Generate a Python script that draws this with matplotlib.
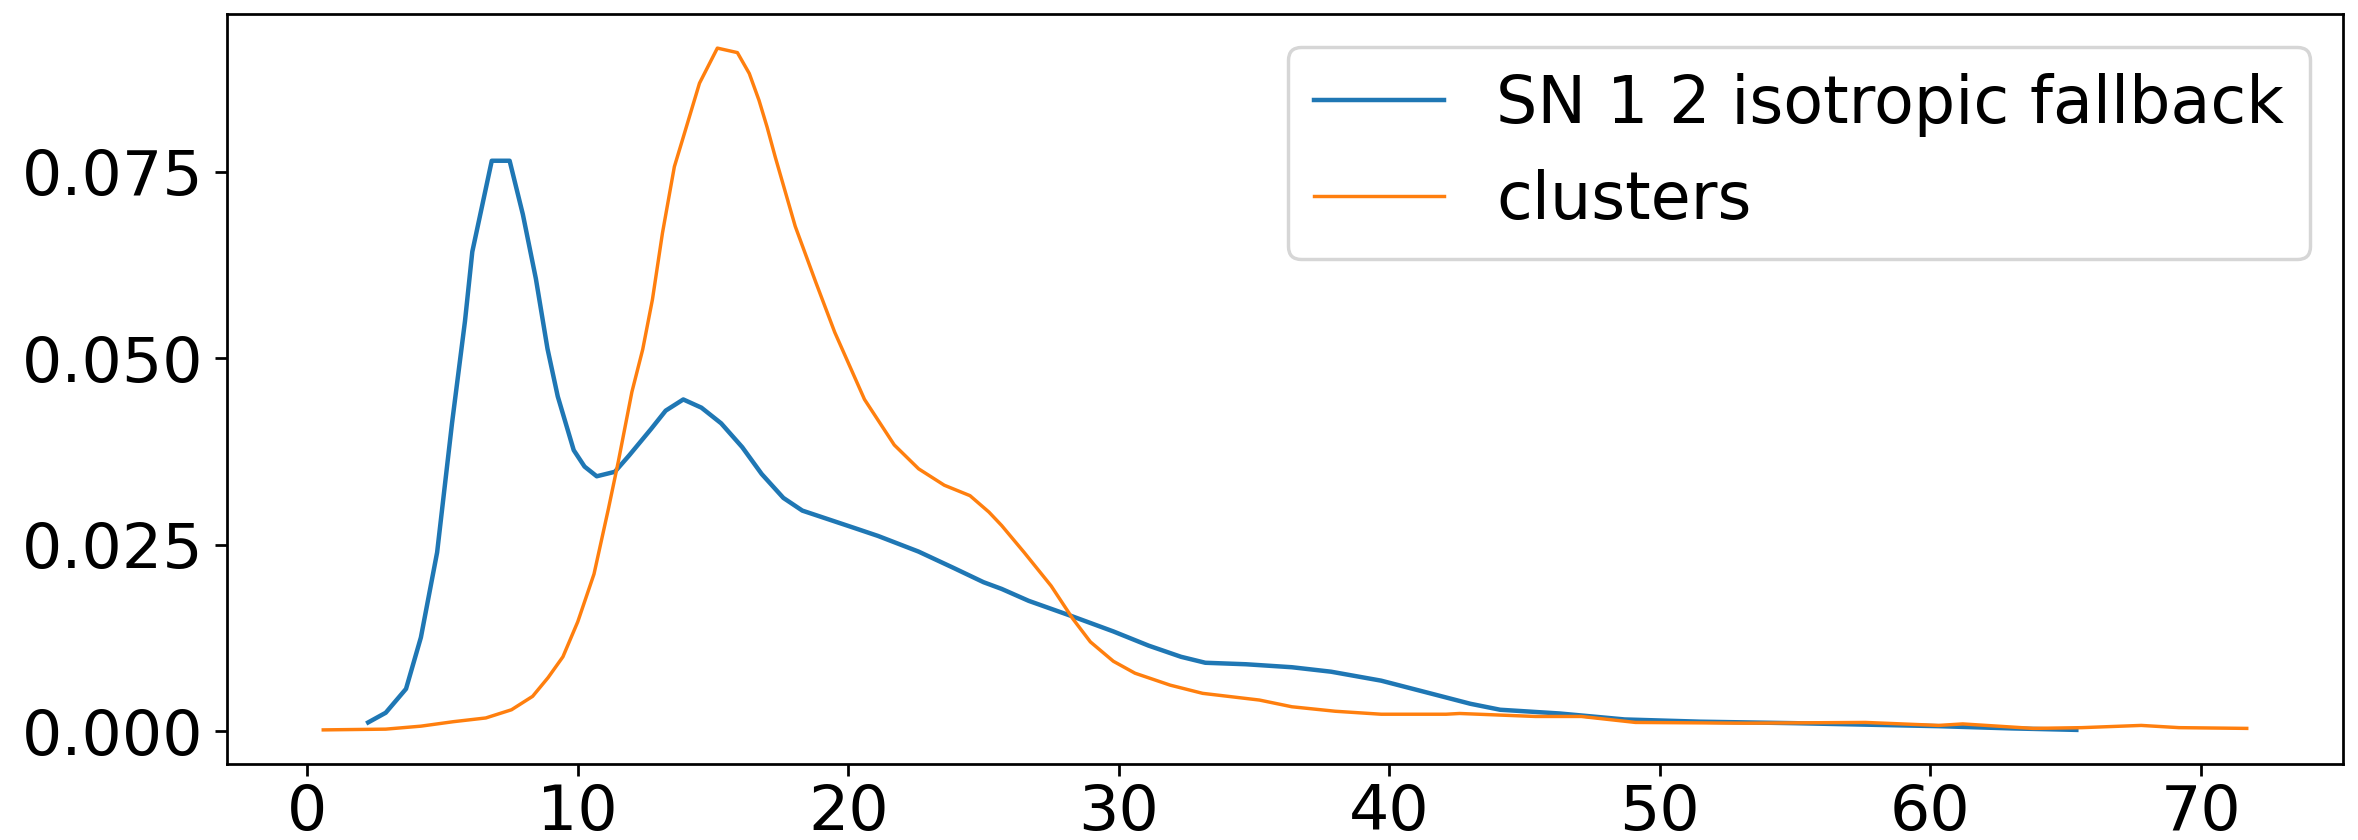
import matplotlib
matplotlib.use("Agg")
import matplotlib.pyplot as plt

# --- data ---
sn_label = "SN 1 2 isotropic fallback"
sn_x = [2.25, 2.9, 3.65, 4.2, 4.8, 5.35, 5.83, 6.1, 6.82, 7.48, 7.97, 8.45, 8.88,
        9.26, 9.85, 10.25, 10.7, 11.37, 11.9, 12.7, 13.25, 13.9, 14.57, 15.3, 16.08,
        16.8, 17.6, 18.3, 20.2, 21.1, 22.6, 23.9, 25.0, 25.67, 26.67, 28.3, 29.8,
        31.1, 32.3, 33.2, 34.7, 36.4, 37.85, 39.7, 41.3, 43.0, 44.1, 46.3, 48.7,
        51.5, 55.0, 60.3, 63.0, 65.4]
sn_y = [0.0012, 0.0025, 0.0057, 0.0126, 0.0240, 0.0413, 0.0550, 0.0643, 0.0765,
        0.0765, 0.0693, 0.0607, 0.0513, 0.0449, 0.0377, 0.0355, 0.0342, 0.0348,
        0.0370, 0.0405, 0.0430, 0.0445, 0.0434, 0.0413, 0.0381, 0.0345, 0.0313,
        0.0296, 0.0273, 0.0262, 0.0241, 0.0219, 0.0200, 0.0191, 0.0175, 0.0154,
        0.0134, 0.0115, 0.0100, 0.0092, 0.0090, 0.0086, 0.0080, 0.0068, 0.0053,
        0.0037, 0.0029, 0.0024, 0.0016, 0.0013, 0.0011, 0.0007, 0.0004, 0.0002]

cl_label = "clusters"
cl_x = [0.59, 2.9, 4.2, 5.4, 6.6, 7.55, 8.33, 8.9, 9.45, 10.0, 10.6, 11.13, 11.5,
        12.0, 12.4, 12.76, 13.13, 13.57, 13.87, 14.5, 15.16, 15.9, 16.34, 16.7,
        17.0, 17.3, 18.04, 18.8, 19.5, 20.6, 21.7, 22.6, 23.55, 24.5, 25.2, 25.67,
        26.5, 27.5, 28.3, 28.95, 29.8, 30.6, 31.9, 33.1, 35.2, 36.4, 38.0, 39.7,
        42.1, 42.6, 45.4, 47.1, 49.1, 53.2, 57.6, 60.3, 61.2, 63.8, 65.6, 67.8,
        69.2, 71.7]
cl_y = [0.0002, 0.0003, 0.0007, 0.0013, 0.0018, 0.0029, 0.0047, 0.0072, 0.0100,
        0.0147, 0.0211, 0.0298, 0.0362, 0.0455, 0.0512, 0.0579, 0.0668, 0.0757,
        0.0793, 0.0869, 0.0916, 0.0910, 0.0882, 0.0846, 0.0810, 0.0770, 0.0677,
        0.0602, 0.0535, 0.0445, 0.0384, 0.0352, 0.0330, 0.0316, 0.0294, 0.0276,
        0.0240, 0.0195, 0.0151, 0.0120, 0.0094, 0.0078, 0.0062, 0.0051, 0.0042,
        0.0033, 0.0027, 0.0023, 0.0023, 0.0024, 0.0020, 0.0020, 0.0012, 0.0011,
        0.0012, 0.0008, 0.0010, 0.0004, 0.0005, 0.0008, 0.0005, 0.0004]

xticks = [0, 10, 20, 30, 40, 50, 60, 70]
yticks = [0.000, 0.025, 0.050, 0.075]

DPI = 247
fig = plt.figure(figsize=(2358 / DPI, 840 / DPI), dpi=DPI)
ax = fig.add_axes([0.0963, 0.0905, 0.8973, 0.8928])

ax.plot(sn_x, sn_y, color="#1f77b4", lw=1.3, label=sn_label)
ax.plot(cl_x, cl_y, color="#ff7f0e", lw=1.0, label=cl_label)

ax.set_xticks(xticks)
ax.set_yticks(yticks)
ax.set_yticklabels([f"{v:.3f}" for v in yticks])
ax.tick_params(axis="y", labelsize=18.5)
ax.tick_params(axis="x", labelsize=18.5, pad=2.0)
ax.legend(loc="upper right", fontsize=19)

fig.savefig("out.png", dpi=DPI)
